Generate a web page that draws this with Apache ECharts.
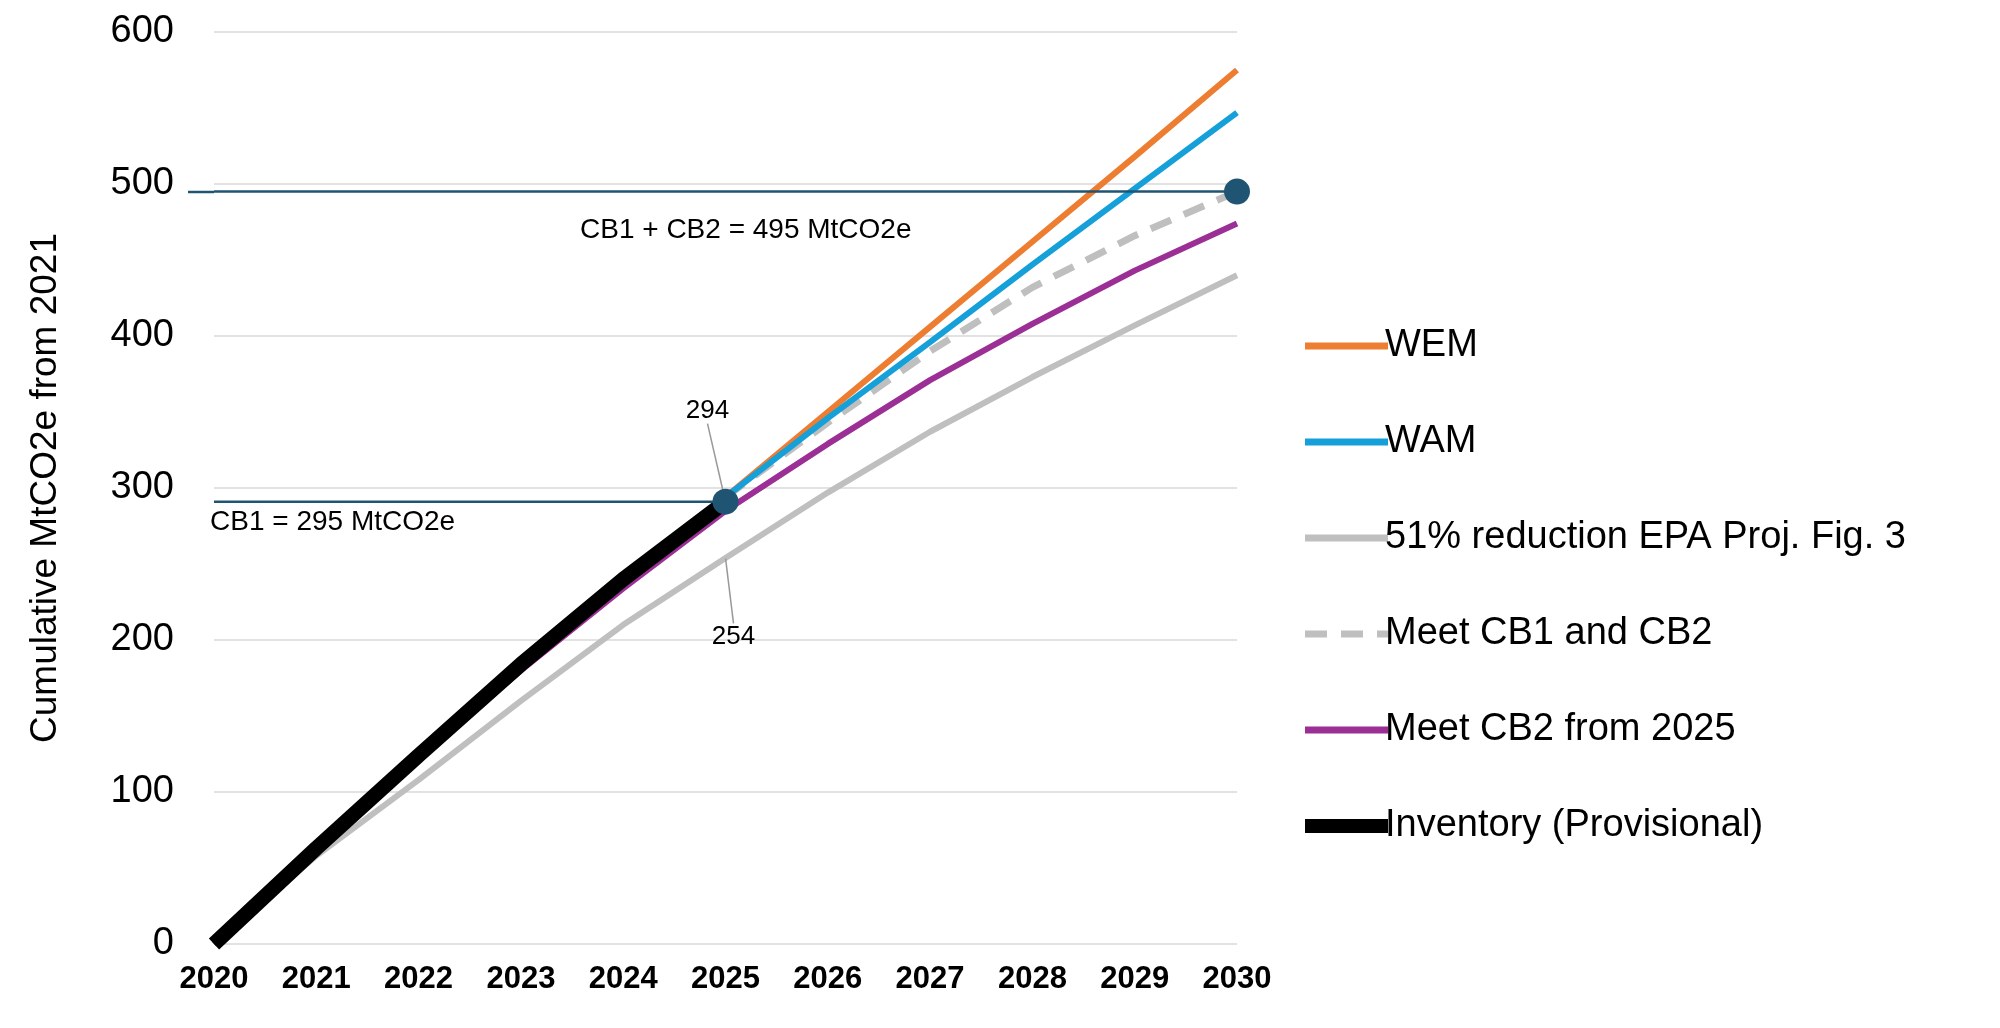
<!DOCTYPE html>
<html>
<head>
<meta charset="utf-8">
<script src="https://cdn.jsdelivr.net/npm/echarts@6/dist/echarts.min.js"></script>
<style>html,body{margin:0;background:#fff}#chart{width:2000px;height:1028px}</style>
</head>
<body>
<div id="chart"></div>
<script>
// years on the x axis
var years = ['2020','2021','2022','2023','2024','2025','2026','2027','2028','2029','2030'];
// series values, cumulative MtCO2e
var inventory = [0, 63, 124, 184, 240, 291, null, null, null, null, null];
var wem = [null, null, null, null, null, 294, 350, 406, 462, 518, 575];
var wam = [null, null, null, null, null, 294, 346, 396, 447, 497, 547];
var epa51 = [0, 58, 108, 160, 210, 254, 297, 337, 373, 407, 440];
var meetCB1CB2 = [null, null, null, null, null, 294, 343, 390, 432, 466, 495];
var meetCB2 = [0, 62, 122, 180, 234, 285, 329, 371, 408, 443, 474];
var cb1Line = [291, 291, 291, 291, 291, 291, null, null, null, null, null];
var cb2Line = [495, 495, 495, 495, 495, 495, 495, 495, 495, 495, 495];

var chart = echarts.init(document.getElementById('chart'));
var font = 'Arial, Liberation Sans, sans-serif';

function lineSeries(name, data, color, width, type, z) {
	return {
		name: name, type: 'line', data: data, symbol: 'none', z: z,
		lineStyle: { color: color, width: width, type: type || 'solid' },
		itemStyle: { color: color }
	};
}

var epaSeries = lineSeries('51% reduction EPA Proj. Fig. 3', epa51, '#bfbfbf', 6, 'solid', 2);
epaSeries.data = epa51.map(function(v, i) {
	if (i == 5) return { value: v, symbol: 'circle', symbolSize: 1,
		label: { show: true, formatter: '254', position: 'bottom' } };
	return v;
});
epaSeries.label = { show: false, fontFamily: font, fontSize: 26, color: '#000' };
epaSeries.labelLine = { show: true, lineStyle: { color: '#999', width: 1.5 } };
epaSeries.labelLayout = function(p) { return p.dataIndex == 5 ? { dx: 8, dy: 60 } : {}; };

var cb1 = lineSeries('CB1', cb1Line, '#1f5573', 2.5, 'solid', 6);
cb1.data = cb1Line.map(function(v, i) {
	if (i == 5) return { value: v, symbol: 'circle', symbolSize: 26,
		label: { show: true, formatter: '294', position: 'top' } };
	return v;
});
cb1.label = { show: false, fontFamily: font, fontSize: 26, color: '#000' };
cb1.labelLine = { show: true, lineStyle: { color: '#999', width: 1.5 } };
cb1.labelLayout = function(p) { return p.dataIndex == 5 ? { dx: -18, dy: -60 } : {}; };

var cb2 = lineSeries('CB2', cb2Line, '#1f5573', 2.5, 'solid', 6);
cb2.data = cb2Line.map(function(v, i) {
	if (i == 10) return { value: v, symbol: 'circle', symbolSize: 26 };
	return v;
});

chart.setOption({
	animation: false,
	grid: { left: 214, right: 763, top: 32, bottom: 84 },
	legend: {
		orient: 'vertical', left: 1293, top: 322, itemGap: 58,
		itemWidth: 83, itemHeight: 14,
		itemStyle: { opacity: 0 },
		lineStyle: { width: 7 },
		textStyle: { fontFamily: font, fontSize: 38, color: '#000', padding: [0, 0, 0, -8] },
		data: ['WEM', 'WAM', '51% reduction EPA Proj. Fig. 3', 'Meet CB1 and CB2', 'Meet CB2 from 2025',
			{ name: 'Inventory (Provisional)', lineStyle: { width: 14 } }]
	},
	xAxis: {
		type: 'category', boundaryGap: false, data: years,
		axisLine: { show: false }, axisTick: { show: false },
		axisLabel: { fontFamily: font, fontSize: 31, fontWeight: 'bold', color: '#000', margin: 20 }
	},
	yAxis: {
		type: 'value', min: 0, max: 600, interval: 100,
		name: 'Cumulative MtCO2e from 2021', nameLocation: 'middle', nameGap: 150,
		nameTextStyle: { fontFamily: font, fontSize: 37, color: '#000' },
		axisLabel: { fontFamily: font, fontSize: 38, color: '#000', margin: 40 },
		splitLine: { lineStyle: { color: '#d9d9d9', width: 1.5 } }
	},
	graphic: [
		{ type: 'text', left: 210, top: 508, style: { text: 'CB1 = 295 MtCO2e', font: '28px ' + font, fill: '#000' } },
		{ type: 'text', left: 580, top: 216, style: { text: 'CB1 + CB2 = 495 MtCO2e', font: '28px ' + font, fill: '#000' } },
		{ type: 'line', shape: { x1: 188, y1: 192, x2: 214, y2: 192 }, style: { stroke: '#1f5573', lineWidth: 2.5 } }
	],
	series: [
		epaSeries,
		lineSeries('Meet CB1 and CB2', meetCB1CB2, '#bfbfbf', 7, [22, 14], 3),
		lineSeries('WEM', wem, '#ed7d31', 6, 'solid', 3),
		lineSeries('WAM', wam, '#15a0d9', 6, 'solid', 4),
		lineSeries('Meet CB2 from 2025', meetCB2, '#9b2f96', 6, 'solid', 5),
		lineSeries('Inventory (Provisional)', inventory, '#000000', 15, 'solid', 5),
		cb1,
		cb2
	]
});
</script>
</body>
</html>
